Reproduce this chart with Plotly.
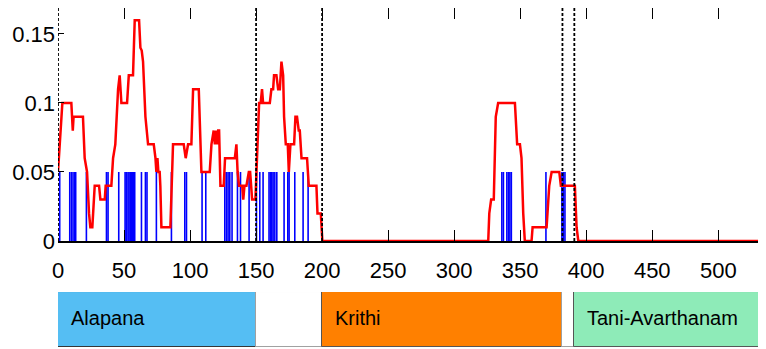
import plotly.graph_objects as go

# ---------------- data ----------------
red_x = [0, 3.3, 10.1, 10.6, 11.2, 11.8, 18.9, 20.2, 22, 23.5, 24.5, 26, 27.8, 31.1, 32.1, 35.4,
         36.1, 40.4, 41.7, 43.4, 44.2, 45.5, 46.7, 48, 52.3, 53.6, 56.8, 58.1, 61.4, 62.4, 63.4,
         64.4, 66.2, 68.2, 72.5, 73.8, 74.5, 75.3, 76, 77, 77.5, 78.3, 85.1, 87.1, 95.2, 96.7,
         98.5, 101, 102.3, 106.6, 108.6, 114.9, 116.2, 117.9, 118.8, 119.6, 120.5, 121.3, 122,
         123, 125.5, 126.5, 133.9, 135.1, 136, 137.1, 139.5, 140.3, 141.2, 142.7, 144.5, 145.5,
         147, 149.5, 152.3, 153.5, 154.5, 155.3, 160.4, 161.6, 162.9, 163.6, 165.4, 166.7, 168,
         169.2, 170.5, 171.2, 172.5, 174, 174.8, 176, 178.8, 179.8, 181, 182.3, 183.1, 184.4,
         188.6, 189.9, 195.7, 196.5, 199, 200.2, 325.8, 326.6, 328, 330, 331.5, 333.3, 346,
         347.7, 349.8, 351, 352.3, 353.5, 358.6, 359.4, 370, 372, 373.8, 379.6, 380.8, 391.4,
         392.7, 394, 545]
red_y = [0.05, 0.10, 0.10, 0.09, 0.08, 0.09, 0.09, 0.06, 0.05, 0.02, 0.01, 0.01, 0.04, 0.04, 0.03, 0.03,
         0.04, 0.04, 0.06, 0.07, 0.09, 0.11, 0.12, 0.10, 0.10, 0.12, 0.12, 0.16, 0.16, 0.14, 0.138,
         0.13, 0.09, 0.07, 0.07, 0.06, 0.05, 0.06, 0.05, 0.05, 0.04, 0.01, 0.01, 0.07, 0.07, 0.06,
         0.07, 0.07, 0.11, 0.11, 0.05, 0.05, 0.07, 0.08, 0.07, 0.08, 0.07, 0.08, 0.08,
         0.04, 0.04, 0.06, 0.06, 0.07, 0.05, 0.04, 0.04, 0.03, 0.04, 0.04, 0.05, 0.05,
         0.03, 0.03, 0.10, 0.10, 0.11, 0.10, 0.10, 0.11, 0.11, 0.12, 0.12, 0.11, 0.11,
         0.13, 0.12, 0.09, 0.07, 0.07, 0.05, 0.07, 0.07, 0.09, 0.09, 0.08, 0.08, 0.06,
         0.06, 0.04, 0.04, 0.02, 0.02, 0.0, 0.0, 0.02, 0.03, 0.03, 0.09, 0.10, 0.10,
         0.07, 0.07, 0.06, 0.02, 0.0, 0.0, 0.01, 0.01, 0.04, 0.05, 0.05, 0.04, 0.04,
         0.01, 0.0, 0.0]

onset_x = [1.3, 8.9, 10.2, 11.4, 12.7, 13.4, 21.5, 36.7, 37.9, 46, 50.8, 51.8, 53, 53.8, 54.8,
           55.6, 56.4, 57.4, 58.1, 63.2, 66.2, 67.4, 74.5, 85.9, 96, 97.3, 109.1, 111.9, 126.3,
           127.6, 128.8, 130.1, 131.8, 135.9, 138.2, 144.7, 150.3, 152.8, 155.3, 159.8, 160.9,
           161.9, 162.9, 164.2, 165.7, 171.2, 174, 175, 179.3, 185.6, 189.4, 336.1, 337.3,
           339.9, 341.1, 342.2, 343.3, 369.5, 381.6, 382.7, 383.9]
onset_value = 0.05

boundaries = [0, 150, 200, 382, 391]

seg_names = ["Alapana", "", "Krithi", "", "Tani-Avarthanam"]
seg_start = [0, 150, 200, 382, 391]
seg_end = [150, 200, 382, 391, 560]
seg_colors = ["#55BEF3", "#FFFFFF", "#FF8000", "#FFFFFF", "#8EEBB8"]
seg_edges = ["#333333", "#A0A0A0", "#555555", "#A0A0A0", "#555555"]

xtick_vals = [0, 50, 100, 150, 200, 250, 300, 350, 400, 450, 500]
ytick_vals = [0, 0.05, 0.1, 0.15]
ytick_text = ["0", "0.05", "0.1", "0.15"]

# ---------------- figure ----------------
stem_x, stem_y = [], []
for v in onset_x:
    stem_x += [v, v, None]
    stem_y += [0, onset_value, None]

fig = go.Figure()
fig.add_trace(go.Scatter(x=stem_x, y=stem_y, mode="lines",
                         line=dict(color="#0000FF", width=1.6), hoverinfo="skip",
                         showlegend=False))
fig.add_trace(go.Scatter(x=red_x, y=red_y, mode="lines",
                         line=dict(color="#FF0000", width=2.5), showlegend=False))

fig.add_trace(go.Bar(
    orientation="h", y=[0] * len(seg_start),
    x=[e - s for s, e in zip(seg_start, seg_end)], base=seg_start,
    marker=dict(color=seg_colors, line=dict(color=seg_edges, width=1)),
    width=1, xaxis="x2", yaxis="y2", showlegend=False, hoverinfo="skip"))

for name, s in zip(seg_names, seg_start):
    if name:
        fig.add_annotation(x=s, y=0, xref="x2", yref="y2", text=name,
                           xanchor="left", yanchor="middle", xshift=11, yshift=1,
                           showarrow=False,
                           font=dict(family="Liberation Sans, Arial, sans-serif",
                                     size=20, color="black"))

for b in boundaries:
    fig.add_shape(type="line", xref="x", yref="y domain", x0=b, x1=b, y0=0, y1=1,
                  line=dict(color="black", width=1.8, dash="3px,2px"), layer="above")

tick_font = dict(family="Liberation Sans Narrow, Arial Narrow, Liberation Sans, sans-serif",
                 size=22, color="black")

fig.update_layout(
    width=766, height=349,
    margin=dict(l=50, r=0, t=0, b=0, autoexpand=False),
    paper_bgcolor="white", plot_bgcolor="white",
    bargap=0,
    xaxis=dict(domain=[0, 1], range=[0, 542.2], tickvals=xtick_vals,
               ticks="inside", ticklen=11, tickwidth=1.2, tickcolor="black",
               showline=True, linewidth=2, linecolor="black", mirror="ticks",
               showgrid=False, zeroline=False, tickfont=tick_font,
               ticklabelstandoff=9, anchor="y", automargin=False),
    yaxis=dict(domain=[0.3324, 1.0], range=[0, 0.1688], tickvals=ytick_vals,
               ticktext=ytick_text, ticks="inside", ticklen=6, tickwidth=1.2,
               tickcolor="black", showline=False, showgrid=False, zeroline=False,
               tickfont=tick_font, ticklabelstandoff=2, anchor="x", automargin=False),
    xaxis2=dict(domain=[0, 1], matches="x", anchor="y2", visible=False, automargin=False),
    yaxis2=dict(domain=[0.0287, 0.1862], range=[-0.5, 0.5], visible=False,
                anchor="x2", automargin=False),
)

fig.write_html("out.html")
